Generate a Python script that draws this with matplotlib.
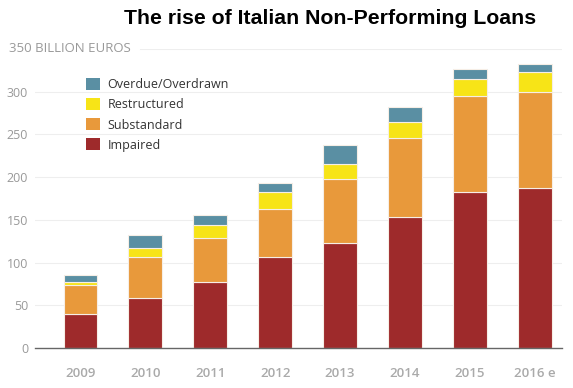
import matplotlib
matplotlib.use("Agg")
import matplotlib.pyplot as plt
import numpy as np
from matplotlib.patches import Patch

years = ["2009", "2010", "2011", "2012", "2013", "2014", "2015", "2016 e"]
impaired = [40, 58, 77, 106, 123, 153, 183, 187]
substandard = [34, 49, 52, 57, 75, 93, 112, 113]
restructured = [3, 10, 15, 19, 17, 18, 20, 23]
overdue = [9, 15, 12, 11, 22, 18, 11, 9]

series = [
    ("Impaired", impaired, "#9e2a2b"),
    ("Substandard", substandard, "#e8993b"),
    ("Restructured", restructured, "#f7e417"),
    ("Overdue/Overdrawn", overdue, "#5a8fa3"),
]

plt.rcParams["font.family"] = ["Open Sans", "DejaVu Sans"]

fig = plt.figure(figsize=(5.73, 3.88), dpi=100)
ax = fig.add_axes([0.061, 0.103, 0.92, 0.771])

x = np.arange(len(years))
bottom = np.zeros(len(years))
for name, vals, col in series:
    ax.bar(x, vals, 0.52, bottom=bottom, color=col, edgecolor="#f6eee6", linewidth=0.8)
    bottom += np.array(vals)

ax.set_ylim(0, 350)
ax.set_xlim(-0.7, 7.42)
ax.set_yticks([0, 50, 100, 150, 200, 250, 300])
ax.tick_params(axis="y", length=0, labelsize=9, labelcolor="#999999", pad=5)
ax.set_xticks(x)
ax.set_xticklabels(years, fontweight="semibold")
ax.tick_params(axis="x", length=0, labelsize=9.5, labelcolor="#aaaaaa", pad=14)

for v in [50, 100, 150, 200, 250, 300]:
    ax.axhline(v, color="#eeeeee", linewidth=0.8, zorder=0)
ax.axhline(350, xmin=0.2, color="#eeeeee", linewidth=0.8, zorder=0)
ax.text(-0.049, 350, "350 BILLION EUROS", transform=ax.get_yaxis_transform(),
        ha="left", va="center", fontsize=9.5, color="#999999")

for s in ["top", "right", "left"]:
    ax.spines[s].set_visible(False)
ax.spines["bottom"].set_color("#666666")
ax.spines["bottom"].set_linewidth(1)

handles = [Patch(facecolor=c, label=n) for n, v, c in reversed(series)]
leg = ax.legend(handles=handles, loc="upper left", bbox_to_anchor=(0.076, 0.94),
                frameon=False, fontsize=9, handlelength=1.1, handleheight=1.1,
                labelspacing=0.55, handletextpad=0.6)
for t in leg.get_texts():
    t.set_color("#333333")

fig.text(0.576, 0.953, "The rise of Italian Non-Performing Loans", ha="center", va="center",
         fontsize=15.3, fontweight="bold", family="Liberation Sans")

fig.savefig("out.png", dpi=100)
